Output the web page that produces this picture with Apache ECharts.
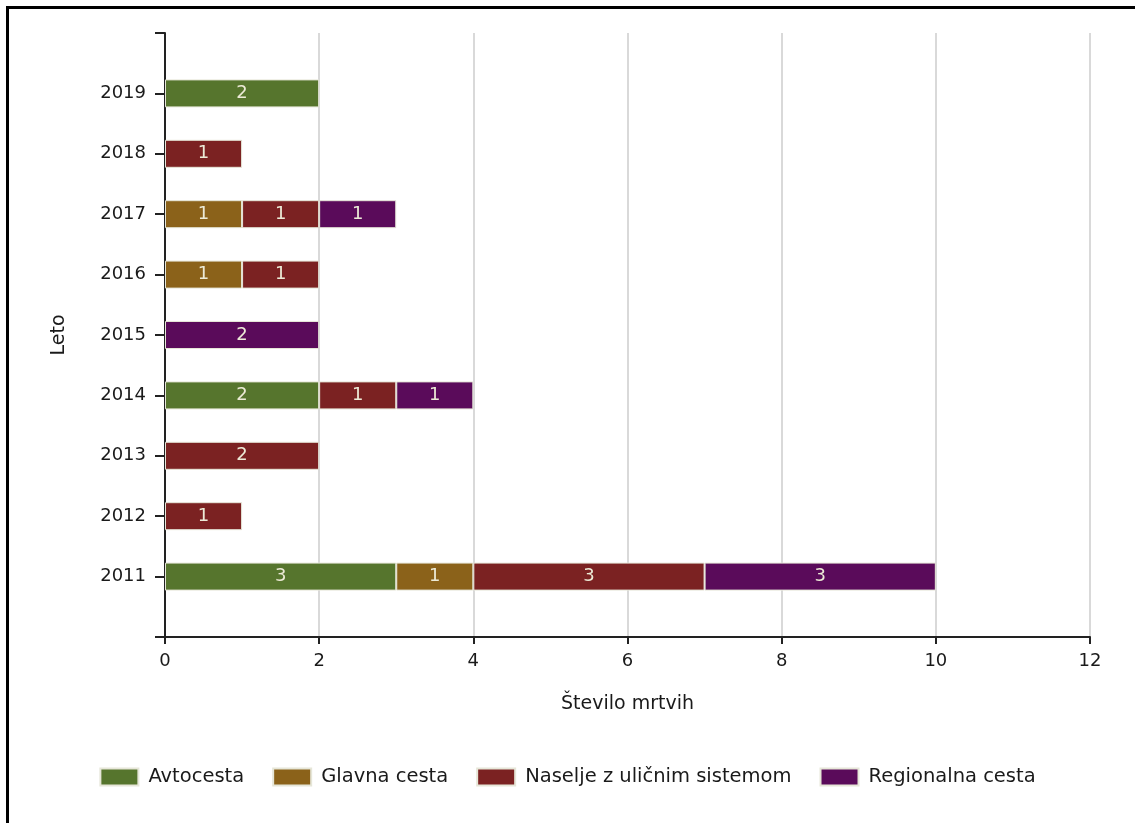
<!DOCTYPE html>
<html>
<head>
<meta charset="utf-8">
<script src="https://cdn.jsdelivr.net/npm/echarts@6/dist/echarts.min.js"></script>
<style>
html,body{margin:0;padding:0;background:#fff;}
#chart{width:1135px;height:823px;}
#frame{position:absolute;left:6px;top:6px;right:0;bottom:0;border-left:3px solid #000;border-top:3px solid #000;pointer-events:none;}
</style>
</head>
<body>
<div id="chart"></div>
<div id="frame"></div>
<script>
const years = [' ', '2011', '2012', '2013', '2014', '2015', '2016', '2017', '2018', '2019', '  '];
const seriesNames = ['Avtocesta', 'Glavna cesta', 'Naselje z uličnim sistemom', 'Regionalna cesta'];
const avtocesta  = ['-', 3, '-', '-', 2, '-', '-', '-', '-', 2, '-'];
const glavna     = ['-', 1, '-', '-', '-', '-', 1, 1, '-', '-', '-'];
const naselje    = ['-', 3, 1, 2, 1, '-', 1, 1, 1, '-', '-'];
const regionalna = ['-', 3, '-', '-', 1, 2, '-', 1, '-', '-', '-'];
const colors = ['#56752d', '#8b621a', '#7b2222', '#5a0b5a'];

const font = 'DejaVu Sans';
const txt = '#1a1a1a';
const chart = echarts.init(document.getElementById('chart'));
const mk = (name, data, color) => ({
  name: name, type: 'bar', stack: 'total', data: data, barWidth: 28,
  itemStyle: { color: color, borderColor: '#e6e6d8', borderWidth: 1 },
  label: { show: true, position: 'inside', color: '#ecead6', fontFamily: font, fontSize: 18 },
  emphasis: { disabled: true }
});
chart.setOption({
  animation: false,
  backgroundColor: '#fff',
  color: colors,
  grid: { left: 165, right: 45, top: 33, bottom: 186, containLabel: false },
  legend: {
    top: 762, left: 'center', itemWidth: 38, itemHeight: 17, itemGap: 28,
    icon: 'rect',
    textStyle: { fontFamily: font, fontSize: 19.5, color: txt, padding: [0, 0, 0, 5] },
    data: seriesNames
  },
  xAxis: {
    type: 'value', min: 0, max: 12, interval: 2,
    name: 'Število mrtvih', nameLocation: 'middle', nameGap: 58,
    nameTextStyle: { fontFamily: font, fontSize: 19, color: txt },
    axisLine: { show: true, lineStyle: { color: '#222', width: 2 } },
    axisTick: { show: true, length: 7, lineStyle: { color: '#222', width: 2 } },
    axisLabel: { fontFamily: font, fontSize: 18, color: txt, margin: 15 },
    splitLine: { show: true, lineStyle: { color: '#d9d9d9', width: 2 } }
  },
  yAxis: {
    type: 'category', data: years, boundaryGap: false,
    name: 'Leto', nameLocation: 'middle', nameGap: 96, nameRotate: 90,
    nameTextStyle: { fontFamily: font, fontSize: 19, color: txt },
    axisLine: { show: true, lineStyle: { color: '#222', width: 2 } },
    axisTick: { show: true, length: 10, lineStyle: { color: '#222', width: 2 } },
    axisLabel: { fontFamily: font, fontSize: 18, color: txt, margin: 19 },
    splitLine: { show: false }
  },
  series: [
    mk(seriesNames[0], avtocesta, colors[0]),
    mk(seriesNames[1], glavna, colors[1]),
    mk(seriesNames[2], naselje, colors[2]),
    mk(seriesNames[3], regionalna, colors[3])
  ]
});
</script>
</body>
</html>
